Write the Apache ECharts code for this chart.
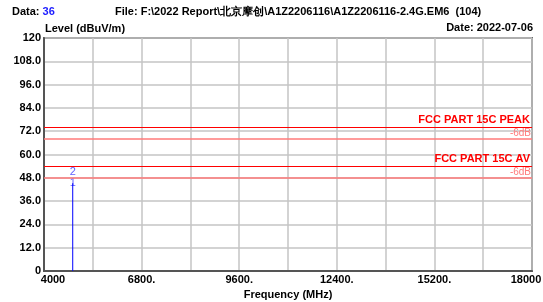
<!DOCTYPE html>
<html>
<head>
<meta charset="utf-8">
<script src="https://cdn.jsdelivr.net/npm/echarts@6/dist/echarts.min.js"></script>
<style>
  html, body { margin: 0; padding: 0; background: #fff; }
  #chart { width: 543px; height: 302px; }
</style>
</head>
<body>
<div id="chart"></div>
<script>
// frequency axis (MHz) and level axis (dBuV/m)
var freqMin = 4000, freqMax = 18000, freqStep = 1400;
var levelMin = 0, levelMax = 120, levelStep = 12;

// measured emission (vertical bar from 0 to level)
var emissionFreq = 4824;
var emissionLevel = 45.2;

// marker labels next to the emission
var markerNames = ['1', '2'];
var markerLevels = [45.2, 51.2];

// limit lines
var limitNames = ['FCC PART 15C PEAK', 'FCC PART 15C AV'];
var limitValues = [74, 54];
var limitOffset = 6;

var font = '"Liberation Sans", Arial, sans-serif';

var chart = echarts.init(document.getElementById('chart'));

var limitMarks = [];
for (var i = 0; i < limitValues.length; i++) {
    limitMarks.push({
        yAxis: limitValues[i],
        lineStyle: { color: '#ff0000', width: 1.2, type: 'solid' },
        label: {
            show: true, position: 'insideEndTop', formatter: limitNames[i],
            color: '#ff0000', fontWeight: 'bold', fontSize: 11, fontFamily: font, distance: 2
        }
    });
    limitMarks.push({
        yAxis: limitValues[i] - limitOffset,
        lineStyle: { color: '#ff7a7a', width: 1.5, type: 'solid', opacity: 1 },
        label: {
            show: true, position: 'insideEndTop', formatter: '-' + limitOffset + 'dB',
            color: '#ff7a7a', fontSize: 10, fontFamily: font, distance: 1
        }
    });
}

var markerData = [];
for (var j = 0; j < markerNames.length; j++) {
    markerData.push([emissionFreq, markerLevels[j], markerNames[j]]);
}

var option = {
    animation: false,
    grid: {
        left: 44, right: 11, top: 38, bottom: 31,
        outerBoundsMode: 'none',
        containLabel: false,
        show: true, borderColor: '#6e6e6e', borderWidth: 2
    },
    graphic: [
        { type: 'text', left: 12, top: 6,
          style: { text: '{a|Data: }{b|36}', font: 'bold 11px ' + font,
                   rich: { a: { fontWeight: 'bold', fontSize: 11, fontFamily: font, fill: '#000' },
                           b: { fontWeight: 'bold', fontSize: 11, fontFamily: font, fill: '#1a1aff' } } } },
        { type: 'text', left: 115, top: 6,
          style: { text: 'File: F:\\2022 Report\\北京摩创\\A1Z2206116\\A1Z2206116-2.4G.EM6  (104)',
                   font: 'bold 11px ' + font, fill: '#000' } },
        { type: 'text', left: 45, top: 23,
          style: { text: 'Level (dBuV/m)', font: 'bold 11px ' + font, fill: '#000' } },
        { type: 'text', right: 10, top: 22,
          style: { text: 'Date: 2022-07-06', font: 'bold 11px ' + font, fill: '#000' } }
    ],
    xAxis: {
        type: 'value',
        min: freqMin, max: freqMax, interval: freqStep,
        name: 'Frequency (MHz)', nameLocation: 'middle', nameGap: 17,
        nameTextStyle: { fontWeight: 'bold', fontSize: 11, fontFamily: font, color: '#000' },
        axisLine: { show: true, onZero: false, lineStyle: { color: '#555', width: 2 } },
        axisTick: { show: false },
        splitLine: { show: true, lineStyle: { color: '#c4c4c4', width: 1.5 } },
        axisLabel: {
            margin: 3, color: '#000', fontWeight: 'bold', fontSize: 11, fontFamily: font,
            formatter: function (v) {
                if ((v - freqMin) % (freqStep * 2) !== 0) return '';
                if (v === freqMin) return '{l|' + v + '}';
                if (v === freqMax) return '{r|' + v + '}';
                return v + '.';
            },
            rich: {
                l: { fontWeight: 'bold', fontSize: 11, fontFamily: font, color: '#000', padding: [0, 0, 0, 18] },
                r: { fontWeight: 'bold', fontSize: 11, fontFamily: font, color: '#000', padding: [0, 12, 0, 0] }
            }
        }
    },
    yAxis: {
        type: 'value',
        min: levelMin, max: levelMax, interval: levelStep,
        axisLine: { show: true, lineStyle: { color: '#555', width: 2 } },
        axisTick: { show: false },
        splitLine: { show: true, lineStyle: { color: '#c4c4c4', width: 1.5 } },
        axisLabel: {
            margin: 3, color: '#000', fontWeight: 'bold', fontSize: 11, fontFamily: font,
            formatter: function (v) {
                if (v === levelMin || v === levelMax) return String(v);
                return v.toFixed(1);
            }
        }
    },
    series: [
        {
            type: 'line',
            data: [[emissionFreq, 0], [emissionFreq, emissionLevel]],
            symbol: 'none',
            lineStyle: { color: '#0000ff', width: 1 },
            z: 3,
            markLine: {
                silent: true, symbol: 'none',
                data: limitMarks
            }
        },
        {
            type: 'scatter',
            data: markerData,
            symbolSize: 0,
            label: {
                show: true, position: 'inside',
                formatter: function (p) { return p.data[2]; },
                color: '#3333ff', fontSize: 11, fontFamily: font
            }
        }
    ]
};

option && chart.setOption(option, true);
</script>
</body>
</html>
